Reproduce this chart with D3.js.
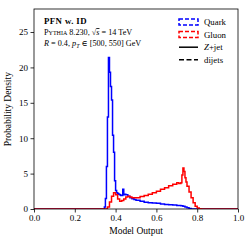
<!DOCTYPE html>
<html>
<head>
<meta charset="utf-8">
<script src="https://cdn.jsdelivr.net/npm/d3@7"></script>
<style>
  html, body { margin: 0; padding: 0; background: #fff; }
  svg text { font-family: "Liberation Serif", "DejaVu Serif", serif; fill: #000; }
</style>
</head>
<body>
<svg id="chart" width="251" height="242"></svg>
<script>
// histogram bin left edges and heights (last edge closes the outline)
const quarkX = [0.0, 0.345, 0.350, 0.355, 0.360, 0.365, 0.370, 0.375, 0.380, 0.385, 0.390, 0.395, 0.400, 0.405, 0.410, 0.415, 0.420, 0.425, 0.430, 0.435, 0.440, 0.445, 0.450, 0.460, 0.470, 0.480, 0.490, 0.500, 0.520, 0.540, 0.560, 0.580, 0.600, 0.620, 0.640, 0.660, 0.680, 0.700, 0.720, 0.730, 0.740, 0.750, 0.760, 0.770, 1.0];
const quarkY = [0.0, 0.3, 1.5, 6.0, 13.0, 21.4, 19.3, 17.3, 15.4, 10.4, 8.0, 4.0, 2.6, 2.3, 2.2, 2.1, 2.0, 1.9, 1.9, 2.8, 2.0, 2.1, 2.0, 1.8, 1.6, 1.45, 1.35, 1.25, 1.1, 0.95, 0.9, 0.85, 0.8, 0.72, 0.65, 0.6, 0.55, 0.5, 0.45, 0.4, 0.3, 0.18, 0.08, 0.0, 0.0];

const gluonX = [0.0, 0.360, 0.370, 0.380, 0.390, 0.400, 0.410, 0.420, 0.430, 0.440, 0.450, 0.460, 0.470, 0.480, 0.500, 0.520, 0.540, 0.560, 0.580, 0.600, 0.620, 0.640, 0.660, 0.680, 0.700, 0.710, 0.720, 0.725, 0.730, 0.735, 0.740, 0.745, 0.750, 0.760, 0.770, 0.780, 0.790, 0.800, 0.810, 0.820, 1.0];
const gluonY = [0.0, 0.3, 1.0, 1.8, 2.3, 2.0, 1.4, 1.1, 1.2, 1.4, 1.7, 1.8, 1.7, 1.6, 1.6, 1.75, 1.9, 2.1, 2.3, 2.5, 2.8, 3.0, 3.3, 3.5, 3.7, 3.6, 3.7, 4.8, 5.8, 5.3, 4.4, 3.8, 3.2, 2.4, 1.6, 0.9, 0.4, 0.15, 0.05, 0.0, 0.0];

const xTicks = [0, 0.2, 0.4, 0.6, 0.8, 1.0];
const yTicks = [0, 5, 10, 15, 20, 25];

const legendItems = [
  { label: 'Quark', kind: 'patch', color: '#0000ff' },
  { label: 'Gluon', kind: 'patch', color: '#ff0000' },
  { label: 'Z+jet', kind: 'line', dash: null },
  { label: 'dijets', kind: 'line', dash: '5,2.5' }
];

const svg = d3.select('#chart');
const m = { l: 34, r: 13, t: 9, b: 33 };
const W = 251, H = 242;

const x = d3.scaleLinear().domain([0, 1]).range([m.l, W - m.r]);
const y = d3.scaleLinear().domain([0, 28.25]).range([H - m.b, m.t]);

// step outline of a histogram
function steps(xs, ys) {
  const pts = [];
  for (let i = 0; i < xs.length - 1; i++) {
    pts.push([xs[i], ys[i]], [xs[i + 1], ys[i]]);
  }
  return pts;
}
const line = d3.line().x(d => x(d[0])).y(d => y(d[1]));

svg.append('defs').append('clipPath').attr('id', 'clip')
  .append('rect').attr('x', m.l).attr('y', m.t).attr('width', W - m.l - m.r).attr('height', H - m.t - m.b);

const g = svg.append('g').attr('clip-path', 'url(#clip)');
g.append('path').attr('d', line(steps(quarkX, quarkY)))
  .attr('fill', 'none').attr('stroke', '#0000ff').attr('stroke-width', 1.5).attr('stroke-linejoin', 'miter');
g.append('path').attr('d', line(steps(gluonX, gluonY)))
  .attr('fill', 'none').attr('stroke', '#ff0000').attr('stroke-width', 1.5).attr('stroke-linejoin', 'miter');

// axes
const xAx = svg.append('g').attr('transform', `translate(0,${H - m.b})`)
  .call(d3.axisBottom(x).tickValues(xTicks).tickFormat(d3.format('.1f')).tickSize(3.5).tickPadding(2.5));
const yAx = svg.append('g').attr('transform', `translate(${m.l},0)`)
  .call(d3.axisLeft(y).tickValues(yTicks).tickSize(3.5).tickPadding(2.5));
[xAx, yAx].forEach(a => {
  a.select('.domain').remove();
  a.selectAll('text').style('font-size', '9px');
  a.selectAll('line').attr('stroke-width', 0.8);
});

svg.append('rect').attr('x', m.l).attr('y', m.t)
  .attr('width', W - m.l - m.r).attr('height', H - m.t - m.b)
  .attr('fill', 'none').attr('stroke', '#000').attr('stroke-width', 0.8);

svg.append('text').attr('x', x(0.5)).attr('y', 234).attr('text-anchor', 'middle')
  .style('font-size', '9.5px').text('Model Output');
svg.append('text').attr('transform', `translate(11,${y(14.1)}) rotate(-90)`).attr('text-anchor', 'middle')
  .style('font-size', '9.5px').text('Probability Density');

// annotation text
const ann = svg.append('g').style('font-size', '8.2px');
ann.append('text').attr('x', 44).attr('y', 24).style('font-weight', 'bold').style('font-size', '8.8px')
  .style('letter-spacing', '0.4px').text('PFN w. ID');
const t2 = ann.append('text').attr('x', 44).attr('y', 35);
t2.append('tspan').style('font-variant', 'small-caps').text('Pythia');
t2.append('tspan').text(' 8.230, √');
t2.append('tspan').style('font-style', 'italic').style('text-decoration', 'overline').text('s');
t2.append('tspan').text(' = 14 TeV');
const t3 = ann.append('text').attr('x', 44).attr('y', 46);
t3.append('tspan').style('font-style', 'italic').text('R');
t3.append('tspan').text(' = 0.4, ');
t3.append('tspan').style('font-style', 'italic').text('p');
t3.append('tspan').attr('dy', 1.5).style('font-size', '6px').style('font-style', 'italic').text('T');
t3.append('tspan').attr('dy', -1.5).text(' ∈ [500, 550] GeV');

// legend
const lg = svg.append('g');
legendItems.forEach((d, i) => {
  const cy = 22 + i * 12.6;
  if (d.kind === 'patch') {
    lg.append('rect').attr('x', 179).attr('y', cy - 3).attr('width', 19).attr('height', 6)
      .attr('fill', 'none').attr('stroke', d.color).attr('stroke-width', 1.5).attr('stroke-dasharray', '4,2');
  } else {
    lg.append('line').attr('x1', 179).attr('x2', 198).attr('y1', cy).attr('y2', cy)
      .attr('stroke', '#000').attr('stroke-width', 1.5).attr('stroke-dasharray', d.dash);
  }
  const t = lg.append('text').attr('x', 204).attr('y', cy + 3).style('font-size', '8.8px');
  if (d.label === 'Z+jet') {
    t.append('tspan').style('font-style', 'italic').text('Z');
    t.append('tspan').text('+jet');
  } else {
    t.text(d.label);
  }
});
</script>
</body>
</html>
